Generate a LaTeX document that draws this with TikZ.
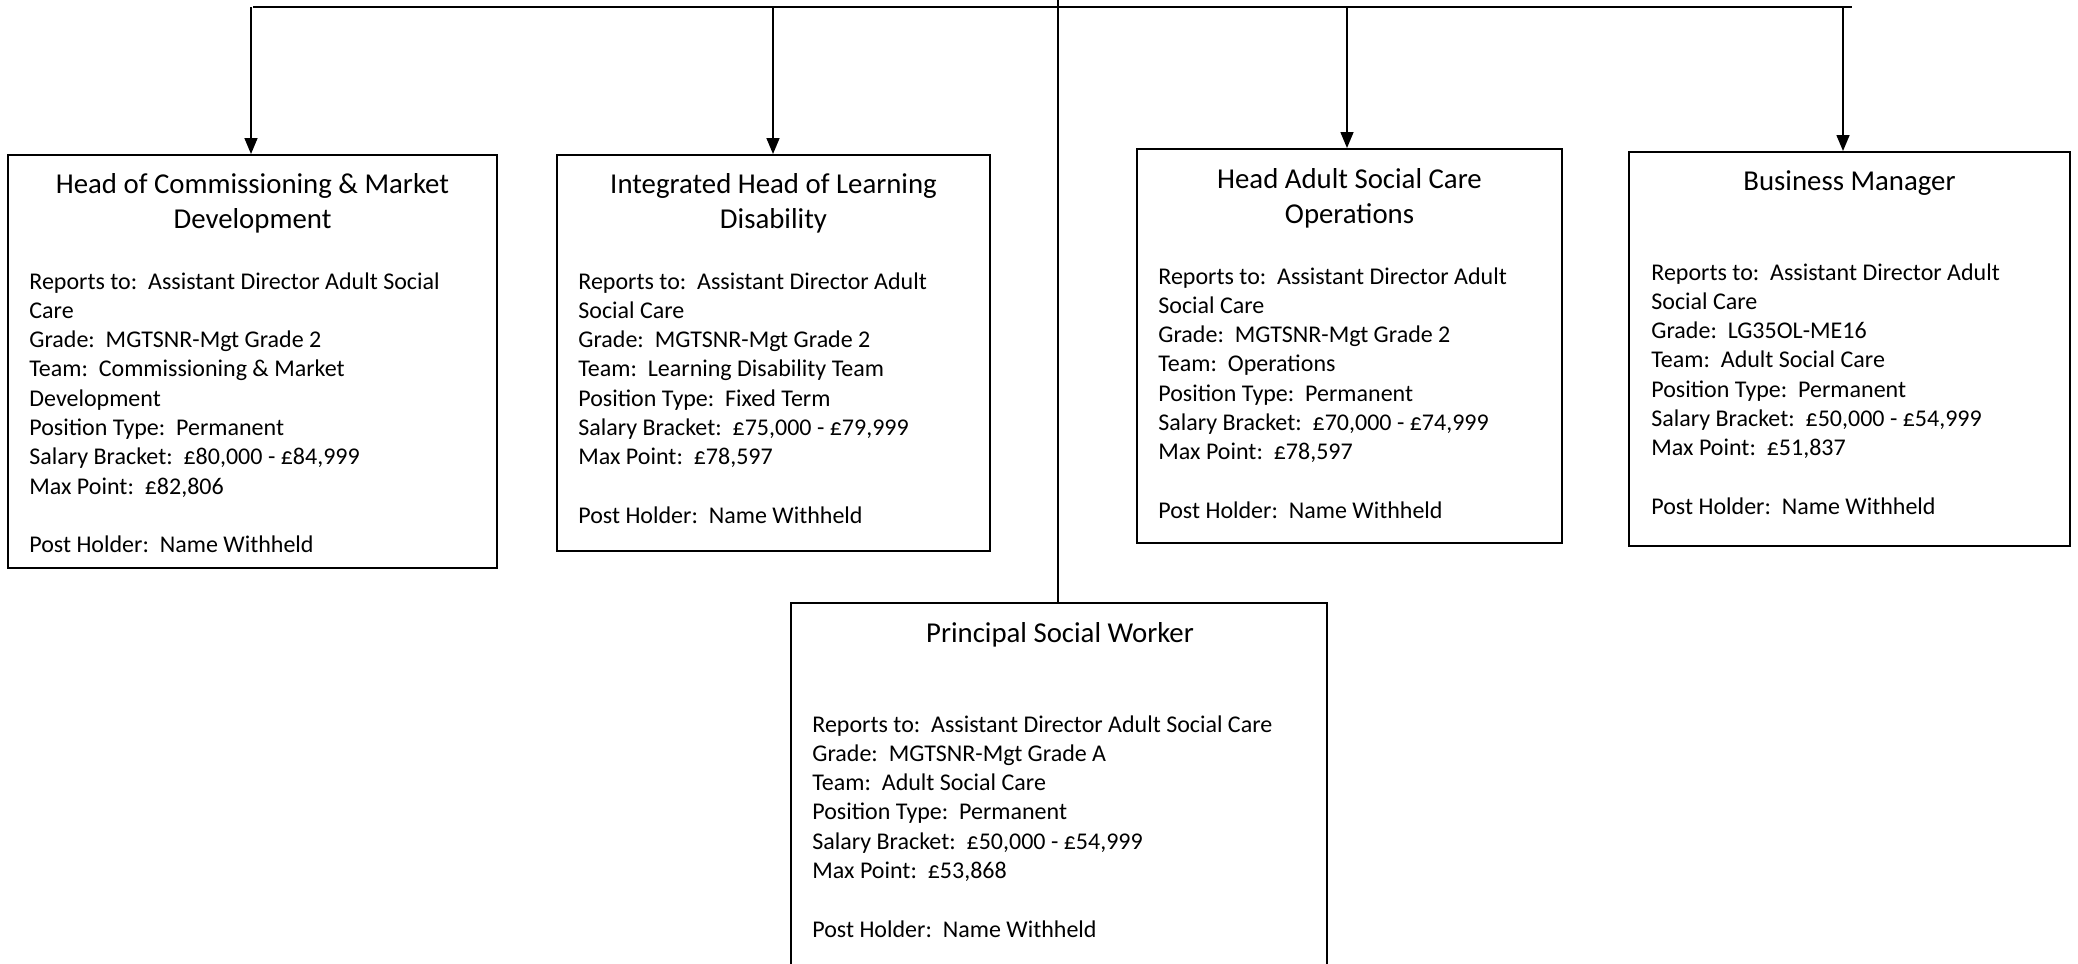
\documentclass[tikz,border=0pt]{standalone}
\usepackage{fontspec}
\setmainfont{Carlito}
\usetikzlibrary{arrows.meta}
\newcommand\ctrline[1]{\hbox to 0pt{\hss#1\hss}}
\newcommand\lftline[1]{\hbox{#1}}
\newcommand\bodyfnt{\fontsize{12pt}{14.65pt}\selectfont}
\newcommand\titlefnt{\fontsize{14.4pt}{17.5pt}\selectfont}
\frenchspacing
\tikzset{
  postbox/.style={draw, line width=1pt, inner sep=0pt, rectangle},
  titletext/.style={inner sep=0pt, anchor=base, font=\titlefnt},
  bodytext/.style={inner sep=0pt, anchor=base west, font=\bodyfnt},
  conn/.style={line width=0.8pt},
  arr/.style={line width=0.8pt, -{Triangle[length=8pt,width=6.5pt]}}
}
\begin{document}
\begin{tikzpicture}[x=0.5pt,y=-0.5pt]
\clip (0,0) rectangle (2078,964);
\fill[white] (0,0) rectangle (2078,964);

% boxes (sizes in pt = half of pixel sizes)
\node[postbox, minimum width=244.5pt, minimum height=206.5pt] (b1) at (252.5,361.5) {};
\node[postbox, minimum width=216.5pt, minimum height=198pt] (b2) at (773.5,353) {};
\node[postbox, minimum width=212.5pt, minimum height=197pt] (b3) at (1349.5,346) {};
\node[postbox, minimum width=220.5pt, minimum height=197pt] (b4) at (1849.5,349) {};
\node[postbox, minimum width=268pt, minimum height=210pt] (b5) at (1059,813) {};

% connectors
\coordinate (hl) at (253,7);
\coordinate (hr) at (1852,7);
\coordinate (vt) at (1058,0);
\coordinate (a1) at (251,7);
\coordinate (a2) at (773,7);
\coordinate (a3) at (1347,7);
\coordinate (a4) at (1843,7);
\draw[conn] (hl) -- (hr);
\draw[conn] (vt) -- (vt |- b5.north);
\draw[arr] (a1) -- (a1 |- b1.north);
\draw[arr] (a2) -- (a2 |- b2.north);
\draw[arr] (a3) -- (a3 |- b3.north);
\draw[arr] (a4) -- (a4 |- b4.north);

% box 1
\node[titletext] (t1) at (252.5,193) {\vtop{\ctrline{Head of Commissioning \& Market}\ctrline{Development}}};
\node[bodytext] (d1) at (29,289) {\vtop{%
\lftline{Reports to:~~Assistant Director Adult Social}%
\lftline{Care}%
\lftline{Grade:~~MGTSNR-Mgt Grade 2}%
\lftline{Team:~~Commissioning \& Market}%
\lftline{Development}%
\lftline{Position Type:~~Permanent}%
\lftline{Salary Bracket:~~£80,000 - £84,999}%
\lftline{Max Point:~~£82,806}%
\lftline{}%
\lftline{Post Holder:~~Name Withheld}}};

% box 2
\node[titletext] (t2) at (773.5,193) {\vtop{\ctrline{Integrated Head of Learning}\ctrline{Disability}}};
\node[bodytext] (d2) at (578,289) {\vtop{%
\lftline{Reports to:~~Assistant Director Adult}%
\lftline{Social Care}%
\lftline{Grade:~~MGTSNR-Mgt Grade 2}%
\lftline{Team:~~Learning Disability Team}%
\lftline{Position Type:~~Fixed Term}%
\lftline{Salary Bracket:~~£75,000 - £79,999}%
\lftline{Max Point:~~£78,597}%
\lftline{}%
\lftline{Post Holder:~~Name Withheld}}};

% box 3
\node[titletext] (t3) at (1349.5,188) {\vtop{\ctrline{Head Adult Social Care}\ctrline{Operations}}};
\node[bodytext] (d3) at (1158,284) {\vtop{%
\lftline{Reports to:~~Assistant Director Adult}%
\lftline{Social Care}%
\lftline{Grade:~~MGTSNR-Mgt Grade 2}%
\lftline{Team:~~Operations}%
\lftline{Position Type:~~Permanent}%
\lftline{Salary Bracket:~~£70,000 - £74,999}%
\lftline{Max Point:~~£78,597}%
\lftline{}%
\lftline{Post Holder:~~Name Withheld}}};

% box 4
\node[titletext] (t4) at (1849.5,190) {\vtop{\ctrline{Business Manager}}};
\node[bodytext] (d4) at (1651,280) {\vtop{%
\lftline{Reports to:~~Assistant Director Adult}%
\lftline{Social Care}%
\lftline{Grade:~~LG35OL-ME16}%
\lftline{Team:~~Adult Social Care}%
\lftline{Position Type:~~Permanent}%
\lftline{Salary Bracket:~~£50,000 - £54,999}%
\lftline{Max Point:~~£51,837}%
\lftline{}%
\lftline{Post Holder:~~Name Withheld}}};

% box 5
\node[titletext] (t5) at (1060,642) {\vtop{\ctrline{Principal Social Worker}}};
\node[bodytext] (d5) at (812,732) {\vtop{%
\lftline{Reports to:~~Assistant Director Adult Social Care}%
\lftline{Grade:~~MGTSNR-Mgt Grade A}%
\lftline{Team:~~Adult Social Care}%
\lftline{Position Type:~~Permanent}%
\lftline{Salary Bracket:~~£50,000 - £54,999}%
\lftline{Max Point:~~£53,868}%
\lftline{}%
\lftline{Post Holder:~~Name Withheld}}};
\end{tikzpicture}
\end{document}
